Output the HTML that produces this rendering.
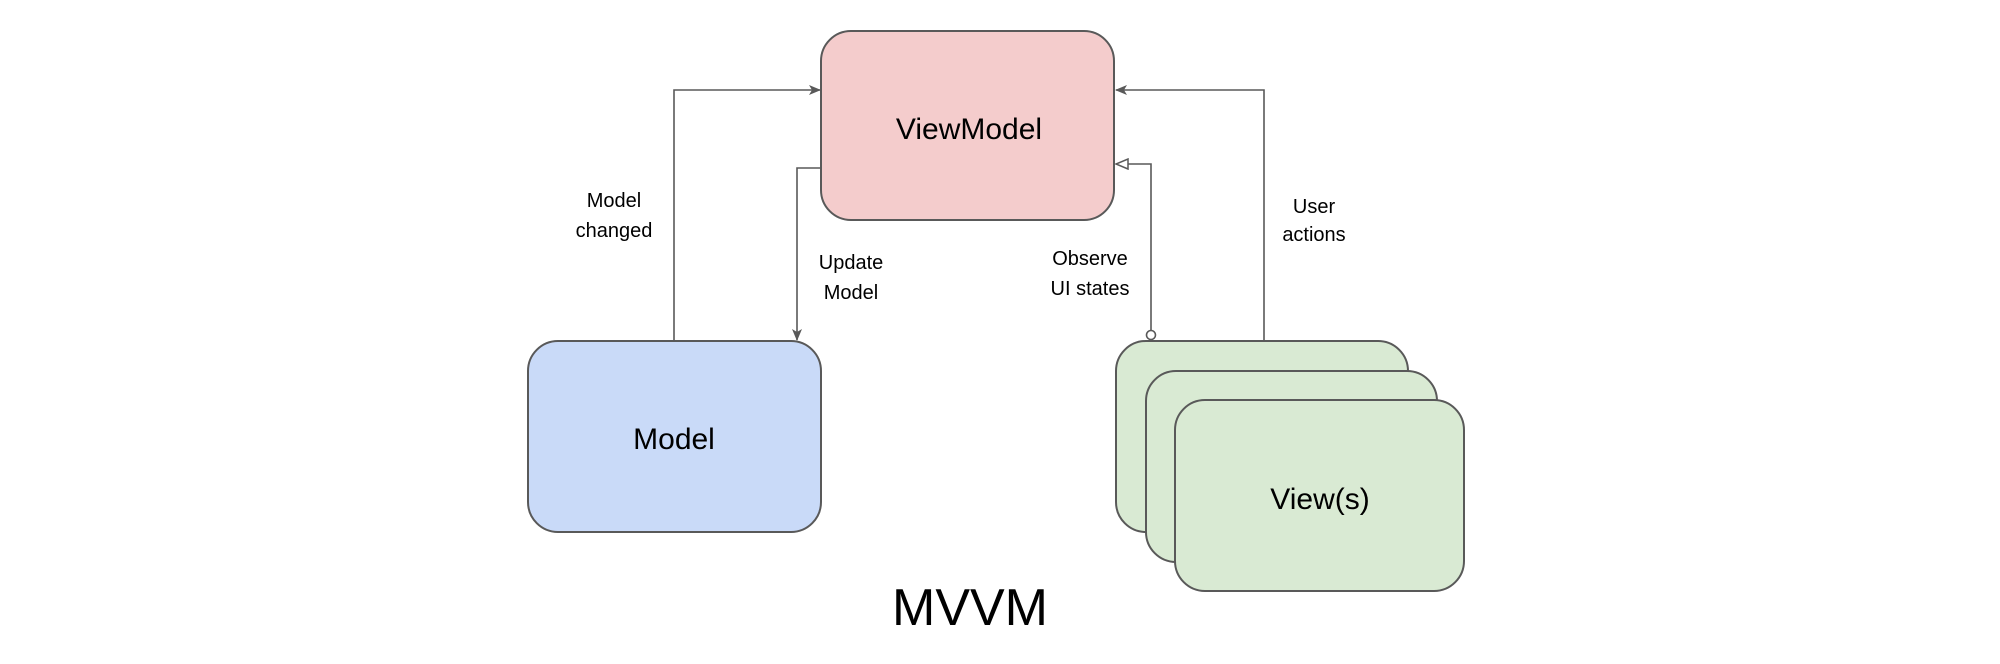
<!DOCTYPE html>
<html><head><meta charset="utf-8"><style>
html,body{margin:0;padding:0;background:#fff;}
svg{display:block;}
text{font-family:"Liberation Sans",Arial,sans-serif;fill:#000;}
</style></head><body>
<svg width="2000" height="664" viewBox="0 0 2000 664" xmlns="http://www.w3.org/2000/svg">
<defs>
<marker id="a" markerWidth="12" markerHeight="10" refX="11" refY="5" orient="auto" markerUnits="userSpaceOnUse">
<path d="M0,0 L12,5 L0,10 L3,5 Z" fill="#595959"/></marker>
<marker id="t" markerWidth="14" markerHeight="12" refX="13" refY="6" orient="auto" markerUnits="userSpaceOnUse">
<path d="M1,1 L13,6 L1,11 Z" fill="#fff" stroke="#595959" stroke-width="1.5"/></marker>
</defs>
<g stroke="#595959" stroke-width="2">
<rect x="821" y="31" width="293" height="189" rx="30" fill="#f4cccc"/>
<rect x="528" y="341" width="293" height="191" rx="30" fill="#c9daf8"/>
<rect x="1116" y="341" width="292" height="191" rx="30" fill="#d9ead3"/>
<rect x="1146" y="371" width="291" height="191" rx="30" fill="#d9ead3"/>
<rect x="1175" y="400" width="289" height="191" rx="30" fill="#d9ead3"/>
</g>
<g stroke="#595959" stroke-width="1.6" fill="none">
<path d="M674,341 V90 H820" marker-end="url(#a)"/>
<path d="M821,168 H797 V340" marker-end="url(#a)"/>
<path d="M1151,331 V164 H1116" marker-end="url(#t)"/>
<circle cx="1151" cy="335" r="4.5" fill="#fff"/>
<path d="M1264,341 V90 H1116" marker-end="url(#a)"/>
</g>
<g font-size="20" text-anchor="middle">
<text x="614" y="207">Model</text><text x="614" y="237">changed</text>
<text x="851" y="269">Update</text><text x="851" y="299">Model</text>
<text x="1090" y="265">Observe</text><text x="1090" y="295">UI states</text>
<text x="1314" y="213">User</text><text x="1314" y="241">actions</text>
</g>
<text x="969" y="139" font-size="30" text-anchor="middle">ViewModel</text>
<text x="674" y="449" font-size="30" text-anchor="middle">Model</text>
<text x="1320" y="509" font-size="30" text-anchor="middle">View(s)</text>
<text x="970" y="625" font-size="52" text-anchor="middle">MVVM</text>
</svg>
</body></html>
